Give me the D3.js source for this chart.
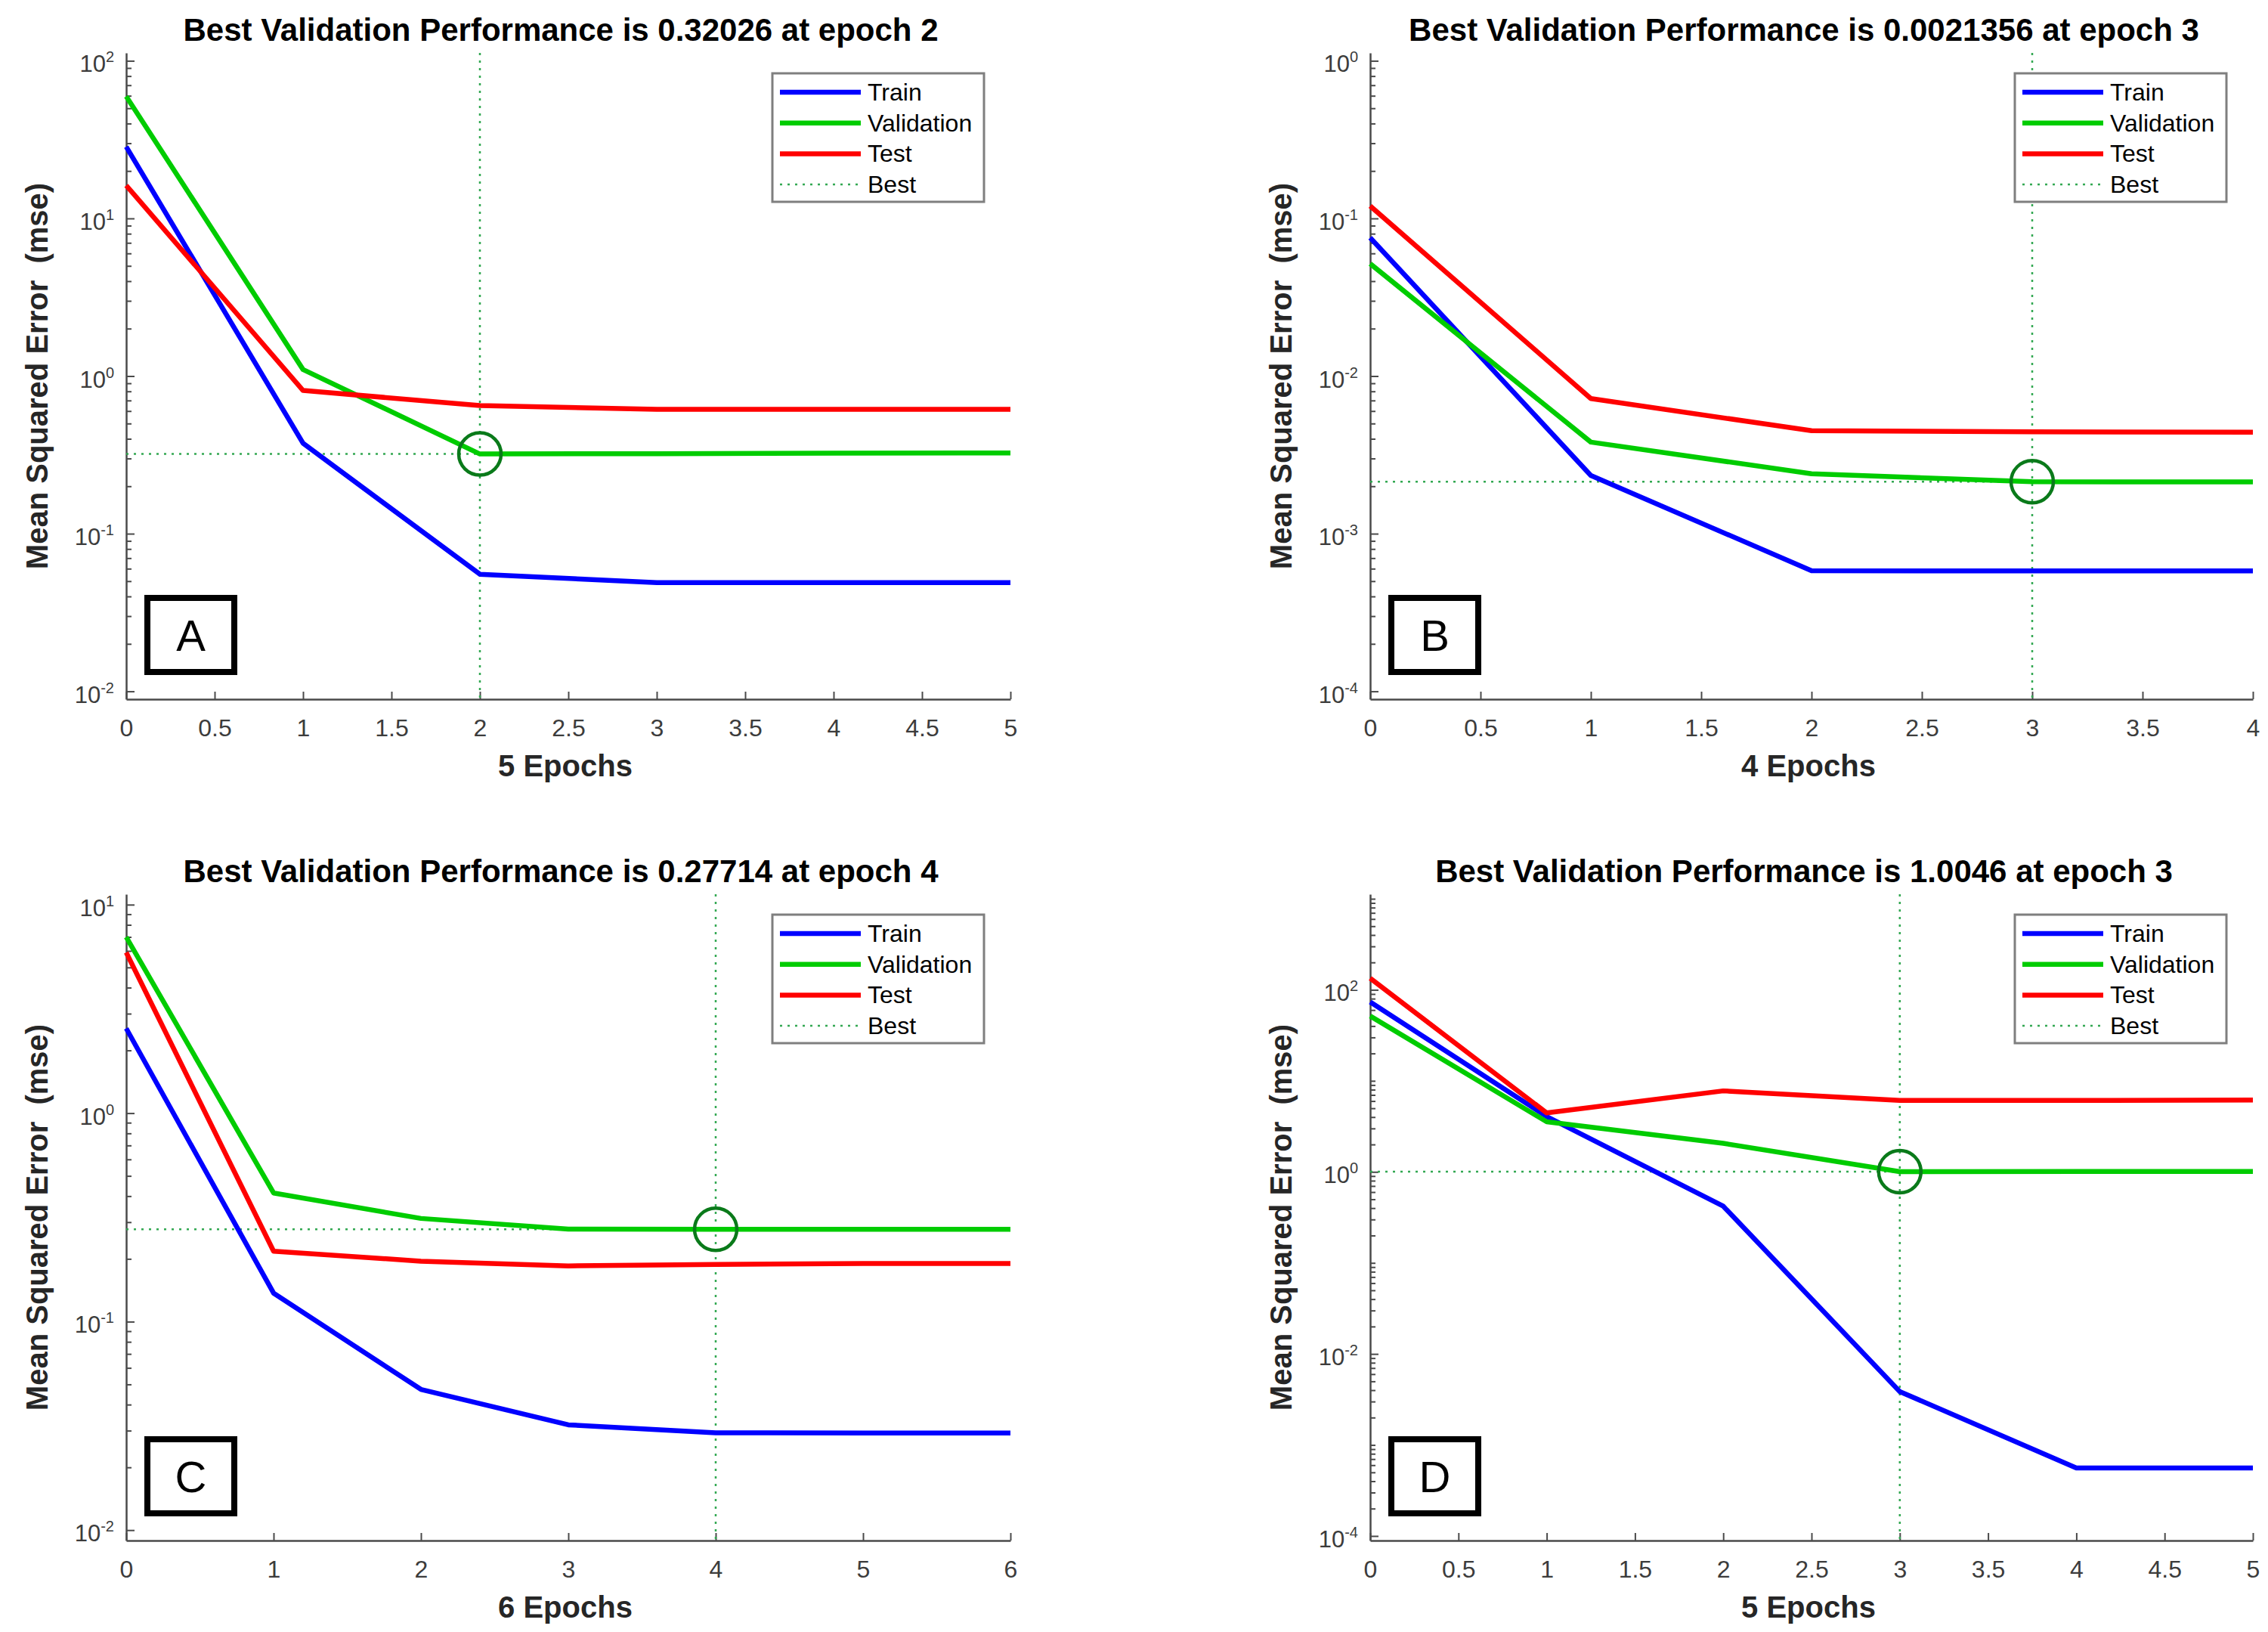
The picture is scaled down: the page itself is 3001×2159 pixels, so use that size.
<!DOCTYPE html>
<html>
<head>
<meta charset="utf-8">
<script src="https://cdn.jsdelivr.net/npm/d3@7"></script>
<style>
  html, body { margin: 0; padding: 0; background: #ffffff; }
  svg text { font-family: "Liberation Sans", Arial, Helvetica, sans-serif; }
</style>
</head>
<body>
<div id="chart"></div>
<script>
// Data (mse per epoch)
const epochsA = [0, 1, 2, 3, 4, 5];
const trainA = [28.5, 0.375, 0.0553, 0.049, 0.049, 0.049];
const valA = [59.5, 1.1, 0.32026, 0.322, 0.324, 0.325];
const testA = [16.2, 0.81, 0.65, 0.615, 0.615, 0.615];

const epochsB = [0, 1, 2, 3, 4];
const trainB = [0.0755, 0.00234, 0.000583, 0.00058, 0.00058];
const valB = [0.0516, 0.00381, 0.0024, 0.0021356, 0.00213];
const testB = [0.12, 0.0072, 0.0045, 0.00443, 0.0044];

const epochsC = [0, 1, 2, 3, 4, 5, 6];
const trainC = [2.55, 0.137, 0.0473, 0.032, 0.0293, 0.0292, 0.0292];
const valC = [7.0, 0.414, 0.3126, 0.278, 0.27714, 0.277, 0.277];
const testC = [5.9, 0.2176, 0.195, 0.185, 0.188, 0.19, 0.19];

const epochsD = [0, 1, 2, 3, 4, 5];
const trainD = [73.6, 4.05, 0.42, 0.00386, 0.000558, 0.000558];
const valD = [51.5, 3.55, 2.06, 1.0046, 1.01, 1.01];
const testD = [134, 4.44, 7.76, 6.1, 6.1, 6.15];

// best validation epoch / value
const bestEpochs = [2, 3, 4, 3];
const bestValues = [0.32026, 0.0021356, 0.27714, 1.0046];

// titles, labels
const titles = [
  "Best Validation Performance is 0.32026 at epoch 2",
  "Best Validation Performance is 0.0021356 at epoch 3",
  "Best Validation Performance is 0.27714 at epoch 4",
  "Best Validation Performance is 1.0046 at epoch 3"
];
const xLabels = ["5 Epochs", "4 Epochs", "6 Epochs", "5 Epochs"];
const panelLetters = ["A", "B", "C", "D"];
const legendNames = ["Train", "Validation", "Test", "Best"];

// x tick values and y decades (log10 exponents)
const xTicksA = d3.range(0, 5.01, 0.5);
const xTicksB = d3.range(0, 4.01, 0.5);
const xTicksC = [0, 1, 2, 3, 4, 5, 6];
const xTicksD = d3.range(0, 5.01, 0.5);
const decadeRanges = [[-2, 2], [-4, 0], [-2, 1], [-4, 3]];
const labeledDecades = [[-2, -1, 0, 1, 2], [-4, -3, -2, -1, 0], [-2, -1, 0, 1], [-4, -2, 0, 2]];

const width = 3001;
const height = 2159;

const colors = { train: "#0000ff", val: "#00cc00", test: "#ff0000" };
const bestColor = "#33a852";
const axisColor = "#4a4a4a";
const tickTextColor = "#3c3c3c";

const svg = d3.select("#chart")
  .append("svg")
  .attr("width", width)
  .attr("height", height);

// panel frames (plot areas)
const panels = [
  { left: 167, right: 1337, top: 70, bottom: 925, epochs: epochsA, train: trainA, val: valA, test: testA, xTicks: xTicksA },
  { left: 1813, right: 2981, top: 70, bottom: 925, epochs: epochsB, train: trainB, val: valB, test: testB, xTicks: xTicksB },
  { left: 167, right: 1337, top: 1183, bottom: 2038, epochs: epochsC, train: trainC, val: valC, test: testC, xTicks: xTicksC },
  { left: 1813, right: 2981, top: 1183, bottom: 2038, epochs: epochsD, train: trainD, val: valD, test: testD, xTicks: xTicksD }
];

panels.forEach((p, i) => drawPanel(p, i));

function drawPanel(p, i) {
  const g = svg.append("g");
  const [lo, hi] = decadeRanges[i];
  const pad = 0.05;

  const x = d3.scaleLinear()
    .domain([0, d3.max(p.epochs)])
    .range([p.left, p.right]);

  const y = d3.scaleLog()
    .domain([Math.pow(10, lo - pad), Math.pow(10, hi + pad)])
    .range([p.bottom, p.top]);

  // minor log ticks (everything that is not a labelled decade)
  const minor = [];
  for (let e = lo; e < hi; e++) {
    for (let m = 2; m <= 9; m++) minor.push(m * Math.pow(10, e));
  }
  for (let e = lo; e <= hi; e++) {
    if (!labeledDecades[i].includes(e)) minor.push(Math.pow(10, e));
  }

  const minorAxis = g.append("g")
    .attr("transform", `translate(${p.left},0)`)
    .call(d3.axisLeft(y).tickValues(minor).tickSize(-7).tickFormat(""));
  minorAxis.select(".domain").remove();

  const yAxis = g.append("g")
    .attr("transform", `translate(${p.left},0)`)
    .call(d3.axisLeft(y)
      .tickValues(labeledDecades[i].map((e) => Math.pow(10, e)))
      .tickSize(-11)
      .tickSizeOuter(0)
      .tickFormat(""));

  const xAxis = g.append("g")
    .attr("transform", `translate(0,${p.bottom})`)
    .call(d3.axisBottom(x)
      .tickValues(p.xTicks)
      .tickSize(-10)
      .tickSizeOuter(0)
      .tickPadding(26)
      .tickFormat((d) => d3.format("~g")(d)));

  [minorAxis, yAxis, xAxis].forEach((a) => {
    a.selectAll("line").attr("stroke", axisColor).attr("stroke-width", 2);
    a.selectAll(".domain").attr("stroke", axisColor).attr("stroke-width", 2.5);
  });
  xAxis.selectAll("text")
    .attr("fill", tickTextColor)
    .attr("font-size", 32)
    .attr("font-family", "Liberation Sans, Arial, sans-serif");

  // y tick labels 10^n
  labeledDecades[i].forEach((e) => {
    const t = g.append("text")
      .attr("x", p.left - 16)
      .attr("y", y(Math.pow(10, e)) + 15)
      .attr("text-anchor", "end")
      .attr("fill", tickTextColor)
      .attr("font-size", 31)
      .text("10");
    t.append("tspan")
      .attr("dy", -13)
      .attr("font-size", 20)
      .text(e < 0 ? "-" + Math.abs(e) : String(e));
  });

  // best lines (dotted)
  const bx = x(bestEpochs[i]);
  const by = y(bestValues[i]);
  g.append("line")
    .attr("x1", bx).attr("x2", bx)
    .attr("y1", p.top).attr("y2", p.bottom)
    .attr("stroke", bestColor)
    .attr("stroke-width", 2.5)
    .attr("stroke-dasharray", "3 7");
  g.append("line")
    .attr("x1", p.left).attr("x2", bx)
    .attr("y1", by).attr("y2", by)
    .attr("stroke", bestColor)
    .attr("stroke-width", 2.5)
    .attr("stroke-dasharray", "3 7");

  // series lines
  const line = d3.line()
    .x((d, j) => x(p.epochs[j]))
    .y((d) => y(d));

  [["train", p.train], ["val", p.val], ["test", p.test]].forEach(([k, vals]) => {
    g.append("path")
      .datum(vals)
      .attr("d", line)
      .attr("fill", "none")
      .attr("stroke", colors[k])
      .attr("stroke-width", 6.5)
      .attr("stroke-linejoin", "round");
  });

  // best marker
  g.append("circle")
    .attr("cx", bx)
    .attr("cy", by)
    .attr("r", 28)
    .attr("fill", "none")
    .attr("stroke", "#0a7a1a")
    .attr("stroke-width", 4.5);

  // title & axis labels
  g.append("text")
    .attr("x", (p.left + p.right) / 2 - 10)
    .attr("y", p.top - 16)
    .attr("text-anchor", "middle")
    .attr("font-size", 42)
    .attr("font-weight", "bold")
    .attr("fill", "#000")
    .text(titles[i]);

  g.append("text")
    .attr("x", (p.left + p.right) / 2 - 4)
    .attr("y", p.bottom + 102)
    .attr("text-anchor", "middle")
    .attr("font-size", 40)
    .attr("font-weight", "bold")
    .attr("fill", "#262626")
    .text(xLabels[i]);

  g.append("text")
    .attr("transform", `translate(${p.left - 104},${(p.top + p.bottom) / 2}) rotate(-90)`)
    .attr("text-anchor", "middle")
    .attr("font-size", 40)
    .attr("font-weight", "bold")
    .attr("fill", "#262626")
    .attr("xml:space", "preserve")
    .text("Mean Squared Error  (mse)");

  // legend
  const lx = p.right - 315;
  const ly = p.top + 27;
  const lg = g.append("g");
  lg.append("rect")
    .attr("x", lx).attr("y", ly)
    .attr("width", 280).attr("height", 170)
    .attr("fill", "#fff")
    .attr("stroke", "#7f7f7f")
    .attr("stroke-width", 3);
  const legendColors = [colors.train, colors.val, colors.test, bestColor];
  legendNames.forEach((name, j) => {
    const yy = ly + 25 + j * 40.7;
    lg.append("line")
      .attr("x1", lx + 10).attr("x2", lx + 117)
      .attr("y1", yy).attr("y2", yy)
      .attr("stroke", legendColors[j])
      .attr("stroke-width", j === 3 ? 2.5 : 6.5)
      .attr("stroke-dasharray", j === 3 ? "3 7" : null);
    lg.append("text")
      .attr("x", lx + 126)
      .attr("y", yy + 11)
      .attr("font-size", 32)
      .attr("fill", "#000")
      .text(name);
  });

  // panel letter box
  g.append("rect")
    .attr("x", p.left + 28)
    .attr("y", p.bottom - 134)
    .attr("width", 115)
    .attr("height", 98)
    .attr("fill", "#fff")
    .attr("stroke", "#000")
    .attr("stroke-width", 8);
  g.append("text")
    .attr("x", p.left + 85.5)
    .attr("y", p.bottom - 64)
    .attr("text-anchor", "middle")
    .attr("font-size", 58)
    .attr("fill", "#000")
    .text(panelLetters[i]);
}
</script>
</body>
</html>
